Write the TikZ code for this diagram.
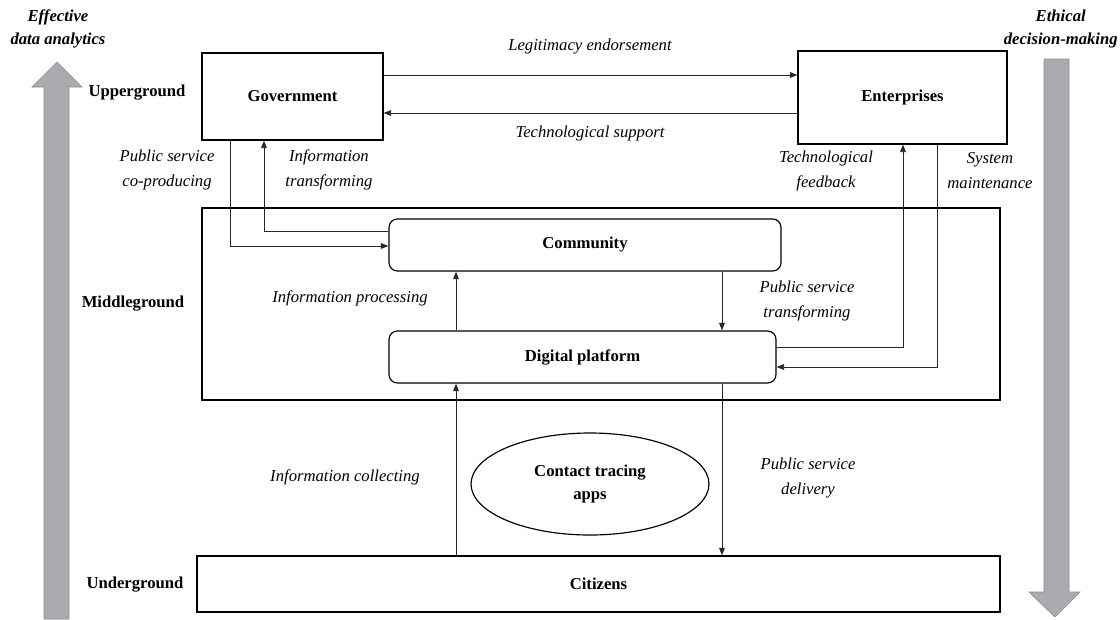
\documentclass[tikz,border=0pt]{standalone}
\usepackage{fontspec}
\setmainfont{Liberation Serif}
\usetikzlibrary{arrows.meta,positioning,shapes.geometric}
\definecolor{bandgray}{RGB}{170,171,175}

\begin{document}
\begin{tikzpicture}[x = 0.6pt, y = -0.6pt,
	box/.style = {draw, line width = 0.7pt, inner sep = 0pt, font = \bfseries},
	rbox/.style = {box, rounded corners = 5pt, minimum height = 31.2pt},
	lab/.style = {font = \fontsize{10}{15}\selectfont\itshape, align = center},
	tier/.style = {font = \bfseries},
	goal/.style = {font = \fontsize{10}{14}\selectfont\bfseries\itshape, align = center, inner sep = 0pt},
	link/.style = {->, line width = 0.5pt, draw = black!85},
	band/.style = {fill = bandgray, draw = black!45, line width = 0.4pt},
	>={Triangle[length = 4.5pt, width = 3.4pt]}]
	\useasboundingbox (0,0) rectangle (1120,619);

	% the two gray arrows
	\draw[band] (44,619) -- (44,87) -- (32,87) -- (57,62) -- (82,87) -- (69,87) -- (69,619) -- cycle;
	\draw[band] (1044,59) -- (1044,592) -- (1029,592) -- (1055,617) -- (1080,592) -- (1069,592) -- (1069,59) -- cycle;
	\node[goal](eff) at (58,29){Effective\\data analytics};
	\node[goal, anchor = east](eth) at (1118,29){Ethical\\decision-making};

	% levels
	\node[tier](upper) at (137,93){Upperground};
	\node[tier](middle) at (133,304){Middleground};
	\node[tier](under) at (135,585){Underground};

	% actors
	\node[box, minimum width = 108.6pt, minimum height = 52.2pt](gov) at (292.5,96.5){Government};
	\node[box, minimum width = 125.4pt, minimum height = 55.8pt](ent) at (902.5,97.5){Enterprises};
	\node[box, minimum width = 478.8pt, minimum height = 115.2pt](mid) at (601,304){};
	\node[rbox, minimum width = 235.2pt](comm) at (585,245){Community};
	\node[rbox, minimum width = 232.2pt](plat) at (582.5,357){Digital platform};
	\node[box, ellipse, minimum width = 142.8pt, minimum height = 61.2pt, align = center,
		font = \fontsize{10}{14}\selectfont\bfseries](apps) at (590,484){Contact tracing\\apps};
	\node[box, minimum width = 481.8pt, minimum height = 33.6pt](cit) at (598.5,584){Citizens};

	% flows
	\draw[link] (gov.east |- 0,75) -- (ent.west |- 0,75);
	\draw[link] (ent.west |- 0,113) -- (gov.east |- 0,113);
	\draw[link] (gov.south -| 230,0) |- (comm.west |- 0,246);
	\draw[link] (comm.west |- 0,231) -| (gov.south -| 264,0);
	\draw[link] (plat.north -| 456,0) -- (comm.south -| 456,0);
	\draw[link] (comm.south -| 722,0) -- (plat.north -| 722,0);
	\draw[link] (cit.north -| 456,0) -- (plat.south -| 456,0);
	\draw[link] (plat.south -| 722,0) -- (cit.north -| 722,0);
	\draw[link] (plat.east |- 0,347) -| (ent.south -| 903,0);
	\draw[link] (ent.south -| 937,0) |- (plat.east |- 0,367);

	% flow labels
	\node[lab](legit) at (590,47){Legitimacy endorsement};
	\node[lab](techsup) at (590,133){Technological support};
	\node[lab](coprod) at (167,170){Public service\\co-producing};
	\node[lab](inftrans) at (329,170){Information\\transforming};
	\node[lab](techfb) at (826,171){Technological\\feedback};
	\node[lab](sysmain) at (990,171){System\\maintenance};
	\node[lab](infproc) at (350,298){Information processing};
	\node[lab](pstrans) at (807,301){Public service\\transforming};
	\node[lab](infcoll) at (345,477){Information collecting};
	\node[lab](psdel) at (808,478){Public service\\delivery};

\end{tikzpicture}
\end{document}
